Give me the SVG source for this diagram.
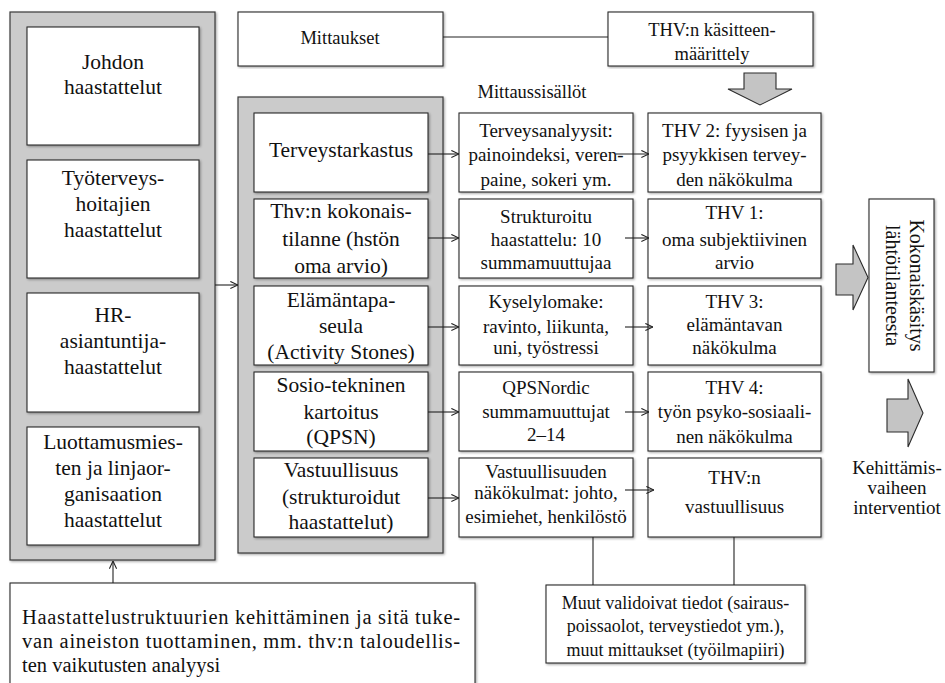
<svg xmlns="http://www.w3.org/2000/svg" width="945" height="683" viewBox="0 0 945 683" font-family="'Liberation Serif', Tinos, 'DejaVu Serif', serif">
  <style>
    text { font-family: 'Liberation Serif', Tinos, 'DejaVu Serif', serif; fill: #111; }
    .panel { fill: #cbcbcb; stroke: #3a3a3a; stroke-width: 1.2; filter: url(#shadow); }
    .box { fill: #fff; stroke: #2b2b2b; stroke-width: 1.1; filter: url(#shadow); }
    .big { font-size: 21.5px; text-anchor: middle; }
    .mid { font-size: 19px; text-anchor: middle; }
    .sm { font-size: 18.5px; text-anchor: middle; }
    .line { fill: none; stroke: #222; stroke-width: 1.1; }
    .arr { fill: none; stroke: #222; stroke-width: 1.1; marker-end: url(#open); }
    .fat { fill: #c4c4c4; stroke: #2b2b2b; stroke-width: 1.1; }
  </style>
  <defs>
    <filter id="shadow" x="-5%" y="-5%" width="110%" height="110%">
      <feDropShadow dx="1.2" dy="1.2" stdDeviation="0.8" flood-color="#000" flood-opacity="0.35"/>
    </filter>
    <marker id="open" viewBox="0 0 10 10" refX="9.5" refY="5" markerWidth="9" markerHeight="9" markerUnits="userSpaceOnUse" orient="auto">
      <path d="M1,1 L9.5,5 L1,9" fill="none" stroke="#222" stroke-width="1.2"/>
    </marker>
  </defs>

  <!-- left panel: interviews -->
  <g id="interviews-panel">
    <rect class="panel" x="10" y="12" width="205" height="548"/>
  </g>
  <g id="johdon">
    <rect class="box" x="27" y="27" width="172" height="118"/>
    <text class="big" x="113" y="69">Johdon</text>
    <text class="big" x="113" y="94">haastattelut</text>
  </g>
  <g id="tyoterveys">
    <rect class="box" x="27" y="160" width="172" height="118"/>
    <text class="big" x="113" y="185">Työterveys-</text>
    <text class="big" x="113" y="211">hoitajien</text>
    <text class="big" x="113" y="237">haastattelut</text>
  </g>
  <g id="hr">
    <rect class="box" x="27" y="293" width="172" height="119"/>
    <text class="big" x="113" y="322">HR-</text>
    <text class="big" x="113" y="348">asiantuntija-</text>
    <text class="big" x="113" y="374">haastattelut</text>
  </g>
  <g id="luottamus">
    <rect class="box" x="27" y="427" width="172" height="118"/>
    <text class="big" x="113" y="449">Luottamusmies-</text>
    <text class="big" x="113" y="475">ten ja linjaor-</text>
    <text class="big" x="113" y="501">ganisaation</text>
    <text class="big" x="113" y="527">haastattelut</text>
  </g>

  <!-- bottom: structure development -->
  <g id="kehittaminen">
    <rect class="box" x="10" y="583" width="465" height="115"/>
    <text x="22" y="624" font-size="20.5" textLength="438" lengthAdjust="spacing">Haastattelustruktuurien kehittäminen ja sitä tuke-</text>
    <text x="22" y="648" font-size="20.5" textLength="438" lengthAdjust="spacing">van aineiston tuottaminen, mm. thv:n taloudellis-</text>
    <text x="22" y="672" font-size="20.5">ten vaikutusten analyysi</text>
  </g>

  <!-- top row -->
  <g id="mittaukset">
    <rect class="box" x="238" y="12" width="205" height="54"/>
    <text class="sm" x="340" y="44">Mittaukset</text>
  </g>
  <g id="kasitteenmaarittely">
    <rect class="box" x="608" y="12" width="205" height="54"/>
    <text class="sm" x="712" y="36">THV:n käsitteen-</text>
    <text class="sm" x="712" y="60">määrittely</text>
  </g>
  <g id="mittaussisallot-label">
    <text class="sm" x="532" y="98">Mittaussisällöt</text>
  </g>

  <!-- measurement panel -->
  <g id="measures-panel">
    <rect class="panel" x="238" y="97" width="205" height="456"/>
  </g>
  <g id="terveystarkastus">
    <rect class="box" x="254" y="113" width="174" height="79"/>
    <text class="big" x="341" y="157">Terveystarkastus</text>
  </g>
  <g id="kokonaistilanne">
    <rect class="box" x="254" y="199" width="174" height="79"/>
    <text class="big" x="341" y="218">Thv:n kokonais-</text>
    <text class="big" x="341" y="246">tilanne (hstön</text>
    <text class="big" x="341" y="273">oma arvio)</text>
  </g>
  <g id="elamantapa">
    <rect class="box" x="254" y="286" width="174" height="79"/>
    <text class="big" x="341" y="307">Elämäntapa-</text>
    <text class="big" x="341" y="333">seula</text>
    <text class="big" x="341" y="359">(Activity Stones)</text>
  </g>
  <g id="sosiotekninen">
    <rect class="box" x="254" y="372" width="174" height="79"/>
    <text class="big" x="341" y="392">Sosio-tekninen</text>
    <text class="big" x="341" y="419">kartoitus</text>
    <text class="big" x="341" y="444">(QPSN)</text>
  </g>
  <g id="vastuullisuus">
    <rect class="box" x="254" y="458" width="174" height="79"/>
    <text class="big" x="341" y="477">Vastuullisuus</text>
    <text class="big" x="341" y="504">(strukturoidut</text>
    <text class="big" x="341" y="529">haastattelut)</text>
  </g>

  <!-- measurement contents -->
  <g id="terveysanalyysit">
    <rect class="box" x="459" y="113" width="174" height="79"/>
    <text class="mid" x="546" y="137">Terveysanalyysit:</text>
    <text class="mid" x="546" y="161">painoindeksi, veren-</text>
    <text class="mid" x="546" y="186">paine, sokeri ym.</text>
  </g>
  <g id="strukturoitu">
    <rect class="box" x="459" y="199" width="174" height="79"/>
    <text class="mid" x="546" y="223">Strukturoitu</text>
    <text class="mid" x="546" y="246">haastattelu: 10</text>
    <text class="mid" x="546" y="269">summamuuttujaa</text>
  </g>
  <g id="kyselylomake">
    <rect class="box" x="459" y="286" width="174" height="79"/>
    <text class="mid" x="546" y="308">Kyselylomake:</text>
    <text class="mid" x="546" y="333">ravinto, liikunta,</text>
    <text class="mid" x="546" y="354">uni, työstressi</text>
  </g>
  <g id="qpsnordic">
    <rect class="box" x="459" y="372" width="174" height="79"/>
    <text class="mid" x="546" y="394">QPSNordic</text>
    <text class="mid" x="546" y="418">summamuuttujat</text>
    <text class="mid" x="546" y="441">2–14</text>
  </g>
  <g id="vastuullisuuden-nakokulmat">
    <rect class="box" x="459" y="458" width="174" height="79"/>
    <text class="mid" x="546" y="478">Vastuullisuuden</text>
    <text class="mid" x="546" y="499">näkökulmat: johto,</text>
    <text class="mid" x="546" y="523">esimiehet, henkilöstö</text>
  </g>

  <!-- THV viewpoints -->
  <g id="thv2">
    <rect class="box" x="648" y="113" width="173" height="79"/>
    <text class="mid" x="734.5" y="137">THV 2: fyysisen ja</text>
    <text class="mid" x="734.5" y="161">psyykkisen tervey-</text>
    <text class="mid" x="734.5" y="186">den näkökulma</text>
  </g>
  <g id="thv1">
    <rect class="box" x="648" y="199" width="173" height="79"/>
    <text class="mid" x="734.5" y="219">THV 1:</text>
    <text class="mid" x="734.5" y="246">oma subjektiivinen</text>
    <text class="mid" x="734.5" y="269">arvio</text>
  </g>
  <g id="thv3">
    <rect class="box" x="648" y="286" width="173" height="79"/>
    <text class="mid" x="734.5" y="308">THV 3:</text>
    <text class="mid" x="734.5" y="331">elämäntavan</text>
    <text class="mid" x="734.5" y="354">näkökulma</text>
  </g>
  <g id="thv4">
    <rect class="box" x="648" y="372" width="173" height="79"/>
    <text class="mid" x="734.5" y="394">THV 4:</text>
    <text class="mid" x="734.5" y="418">työn psyko-sosiaali-</text>
    <text class="mid" x="734.5" y="443">nen näkökulma</text>
  </g>
  <g id="thv-vastuullisuus">
    <rect class="box" x="648" y="458" width="173" height="79"/>
    <text class="mid" x="734.5" y="484">THV:n</text>
    <text class="mid" x="734.5" y="513">vastuullisuus</text>
  </g>

  <!-- other validating data -->
  <g id="muut">
    <rect class="box" x="546" y="585" width="259" height="78"/>
    <text x="675.5" y="609" font-size="18" text-anchor="middle">Muut validoivat tiedot (sairaus-</text>
    <text x="675.5" y="632" font-size="18" text-anchor="middle">poissaolot, terveystiedot ym.),</text>
    <text x="675.5" y="656" font-size="18" text-anchor="middle">muut mittaukset (työilmapiiri)</text>
  </g>

  <!-- overall picture -->
  <g id="kokonaiskasitys">
    <rect class="box" x="869" y="199" width="65" height="173"/>
    <text x="910" y="285.5" font-size="20" text-anchor="middle" transform="rotate(90 910 285.5)">Kokonaiskäsitys</text>
    <text x="886" y="285.5" font-size="20" text-anchor="middle" transform="rotate(90 886 285.5)">lähtötilanteesta</text>
  </g>
  <g id="interventiot">
    <text class="mid" x="897" y="474">Kehittämis-</text>
    <text class="mid" x="897" y="494">vaiheen</text>
    <text class="mid" x="897" y="514">interventiot</text>
  </g>

  <!-- connectors -->
  <g id="connectors">
    <path class="arr" d="M215,285 H238"/>
    <path class="arr" d="M113,583 V561"/>
    <path class="line" d="M443,37 H608"/>
    <path class="arr" d="M428,154 H459"/>
    <path class="arr" d="M428,238 H459"/>
    <path class="arr" d="M428,327 H459"/>
    <path class="arr" d="M428,412 H459"/>
    <path class="arr" d="M428,498 H459"/>
    <path class="arr" d="M616,154 H649"/>
    <path class="arr" d="M625,238 H649"/>
    <path class="arr" d="M625,327 H653"/>
    <path class="arr" d="M625,412 H649"/>
    <path class="arr" d="M625,490 H654"/>
    <path class="line" d="M593,537 V585"/>
    <path class="line" d="M734,537 V585"/>
    <polygon class="fat" points="744,73 776,73 776,89 792,89 760,105 728,89 744,89"/>
    <polygon class="fat" points="836,264 853,264 853,245 868,277.5 853,310 853,295 836,295"/>
    <polygon class="fat" points="887,399 908,399 908,379 923,413 908,447 908,432 887,432"/>
  </g>
</svg>
